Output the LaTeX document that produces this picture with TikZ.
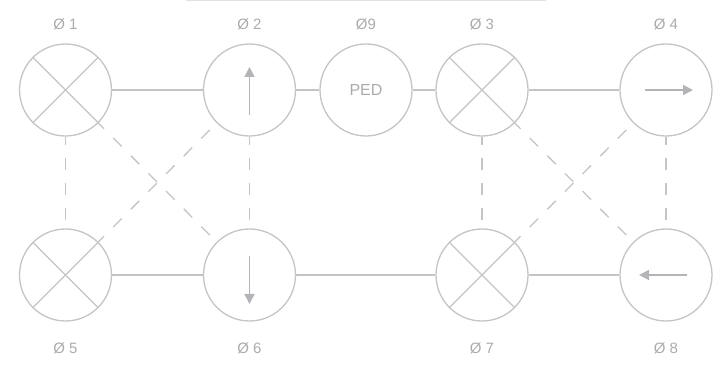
\documentclass[tikz,border=0pt]{standalone}
\usepackage{fontspec}
\setmainfont{Liberation Sans}
\usetikzlibrary{arrows.meta}
\definecolor{ringc}{HTML}{C4C4C4}
\definecolor{textc}{HTML}{ABABAB}
\definecolor{arrc}{HTML}{B4B4B8}
\definecolor{topc}{HTML}{E2E2E2}
\tikzset{
  ring/.style={circle,draw=ringc,line width=1.3pt,minimum size=92pt,inner sep=0pt,font=\fontsize{16}{18}\selectfont,text=textc},
  lbl/.style={font=\fontsize{15}{17}\selectfont,text=textc,inner sep=0pt},
  wire/.style={draw=ringc,line width=1.3pt},
  dline/.style={draw=ringc,line width=1.3pt,dash pattern=on 12pt off 13pt,dash phase=4pt},
  xline/.style={draw=ringc,line width=1.3pt},
  dirarrow/.style={draw=arrc,line width=1.5pt,-{Triangle[length=10pt,width=10pt]},fill=arrc}
}
\begin{document}
\begin{tikzpicture}[x=1pt,y=-1pt]
\useasboundingbox (0,0) rectangle (718,371);
\draw[topc,line width=2pt] (186,0.5) -- (546,0.5);
% nodes
\node[ring] (n1) at (65.5,90) {};
\node[ring] (n2) at (249.5,90) {};
\node[ring] (n9) at (366,90) {PED};
\node[ring] (n3) at (482,90) {};
\node[ring] (n4) at (666,90) {};
\node[ring] (n5) at (65.5,275) {};
\node[ring] (n6) at (249.5,275) {};
\node[ring] (n7) at (482,275) {};
\node[ring] (n8) at (666,275) {};
% labels
\node[lbl] (l1) at (65.5,24) {Ø 1};
\node[lbl] (l2) at (249.5,24) {Ø 2};
\node[lbl] (l9) at (366,24) {Ø9};
\node[lbl] (l3) at (482,24) {Ø 3};
\node[lbl] (l4) at (666,24) {Ø 4};
\node[lbl] (l5) at (65.5,348) {Ø 5};
\node[lbl] (l6) at (249.5,348) {Ø 6};
\node[lbl] (l7) at (482,348) {Ø 7};
\node[lbl] (l8) at (666,348) {Ø 8};
% crosses
\foreach \n in {n1,n3,n5,n7}{
  \draw[xline] (\n.45) -- (\n.225);
  \draw[xline] (\n.135) -- (\n.315);
}
% solid connectors
\draw[wire] (n1) -- (n2);
\draw[wire] (n2) -- (n9);
\draw[wire] (n9) -- (n3);
\draw[wire] (n3) -- (n4);
\draw[wire] (n5) -- (n6);
\draw[wire] (n6) -- (n7);
\draw[wire] (n7) -- (n8);
% dashed connectors
\draw[dline] (n1) -- (n5);
\draw[dline] (n2) -- (n6);
\draw[dline] (n3) -- (n7);
\draw[dline] (n4) -- (n8);
\draw[dline] (n1) -- (n6);
\draw[dline] (n5) -- (n2);
\draw[dline] (n3) -- (n8);
\draw[dline] (n7) -- (n4);
% direction arrows
\draw[dirarrow] ([yshift=-25pt]n2.center) -- ([yshift=23pt]n2.center);
\draw[dirarrow] ([yshift=19pt]n6.center) -- ([yshift=-29pt]n6.center);
\draw[dirarrow] ([xshift=-21pt]n4.center) -- ([xshift=27pt]n4.center);
\draw[dirarrow] ([xshift=21pt]n8.center) -- ([xshift=-27pt]n8.center);
\end{tikzpicture}
\end{document}
